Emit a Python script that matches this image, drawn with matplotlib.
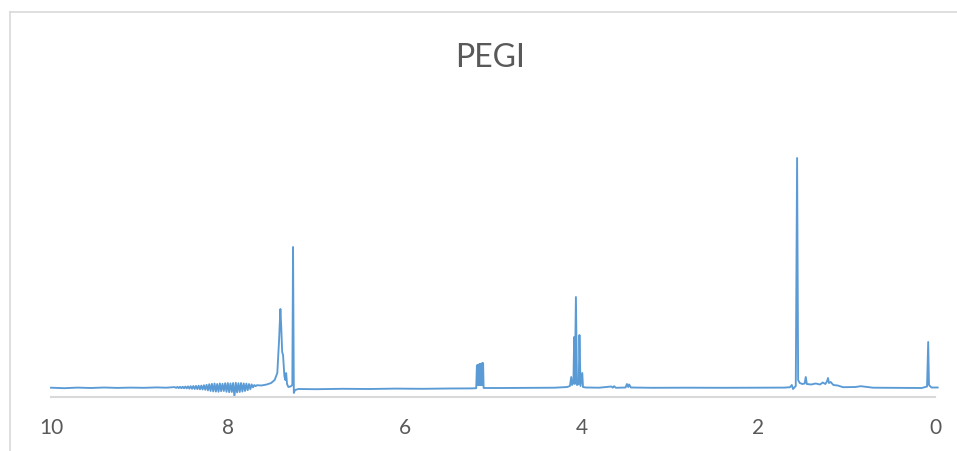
import matplotlib
matplotlib.use("Agg")
import matplotlib.pyplot as plt
from matplotlib.lines import Line2D

# 1H NMR trace (ppm, intensity above baseline)
ppm_left = [10.00, 9.85, 9.70, 9.55, 9.40, 9.25, 9.10, 8.95, 8.80, 8.70, 8.62]
int_left = [0.3, -0.2, 0.4, 0.0, 0.5, 0.1, 0.4, 0.2, 0.6, 0.3, 0.8]

# noisy band around 8 ppm
ppm_noise = [8.600, 8.585, 8.570, 8.555, 8.540, 8.525, 8.510, 8.495, 8.480, 8.465,
             8.450, 8.435, 8.420, 8.405, 8.390, 8.375, 8.360, 8.345, 8.330, 8.315,
             8.300, 8.285, 8.270, 8.255, 8.240, 8.225, 8.210, 8.195, 8.180, 8.165,
             8.150, 8.135, 8.120, 8.105, 8.090, 8.075, 8.060, 8.045, 8.030, 8.015,
             8.000, 7.985, 7.970, 7.955, 7.940, 7.925, 7.910, 7.895, 7.880, 7.865,
             7.850, 7.835, 7.820, 7.805, 7.790, 7.775, 7.760, 7.745, 7.730, 7.715,
             7.700]
int_noise = [0.9, 0.1, 1.1, -0.1, 1.2, -0.2, 1.3, -0.3, 1.5, -0.4,
             1.6, -0.6, 1.8, -0.8, 2.0, -1.0, 2.1, -1.1, 2.3, -1.3,
             2.4, -1.5, 2.8, -1.8, 3.2, -2.4, 3.8, -3.0, 4.2, -3.4,
             4.5, -3.6, 4.0, -3.8, 4.6, -3.2, 4.2, -3.0, 4.8, -3.8,
             5.0, -4.2, 4.6, -4.0, 5.0, -8.5, 5.2, -4.4, 4.8, -4.0,
             5.0, -3.6, 4.6, -3.0, 4.4, -2.2, 4.0, -1.2, 3.6, 0.6,
             3.0]

# aromatic region + CDCl3
ppm_arom = [7.685, 7.67, 7.62, 7.56, 7.51, 7.47, 7.44, 7.42, 7.405, 7.395,
            7.385, 7.375, 7.36, 7.35, 7.34, 7.33, 7.315, 7.29, 7.27, 7.262,
            7.253, 7.24, 7.20]
int_arom = [1.8, 2.8, 2.5, 3.5, 5.0, 8.0, 15.0, 48.0, 79.0, 60.0,
            36.0, 33.0, 12.0, 8.0, 15.0, 4.0, 1.0, 1.5, 3.0, 141.0,
            -5.0, -2.0, -1.0]

# flat stretch and multiplet near 5.15
ppm_mid = [7.00, 6.70, 6.40, 6.10, 5.80, 5.50, 5.25, 5.19,
           5.182, 5.178, 5.174, 5.170, 5.166, 5.162, 5.158, 5.154,
           5.150, 5.146, 5.142, 5.138, 5.134, 5.130, 5.126, 5.122,
           5.118, 5.114, 5.112, 5.106, 4.90, 4.60, 4.30, 4.16]
int_mid = [-1.2, -0.8, -1.0, -0.6, -0.8, -0.5, -0.4, -0.2,
           22.5, 3.0, 23.0, 3.0, 23.2, 3.0, 23.5, 3.0,
           23.8, 3.0, 24.0, 3.0, 24.2, 3.0, 24.5, 3.0,
           24.7, 3.0, 24.8, 0.0, 0.0, 0.2, 0.3, 1.0]

# peaks around 4 ppm
ppm_four = [4.13, 4.115, 4.105, 4.09, 4.082, 4.075, 4.062, 4.05, 4.03, 4.022,
            4.01, 3.99, 3.982, 3.95, 3.80, 3.66, 3.645, 3.63, 3.61, 3.50,
            3.485, 3.47, 3.46, 3.44, 3.20, 2.80, 2.40, 2.00, 1.70]
int_four = [2.0, 11.0, 3.0, 6.0, 51.0, 4.0, 91.0, 3.0, 4.0, 53.0,
            2.0, 15.0, 1.0, 0.5, 0.3, 1.5, 0.3, 1.8, 0.2, 0.5,
            4.0, 1.0, 3.5, 0.5, 0.2, 0.3, 0.2, 0.3, 0.4]

# aliphatic region + TMS
ppm_ali = [1.64, 1.62, 1.606, 1.575, 1.56, 1.548, 1.53, 1.50, 1.475, 1.462,
           1.45, 1.40, 1.35, 1.30, 1.27, 1.24, 1.22, 1.21, 1.20, 1.18,
           1.15, 1.10, 1.04, 0.90, 0.84, 0.70, 0.50, 0.30, 0.15, 0.09,
           0.077, 0.068, 0.04, -0.03]
int_ali = [0.8, 3.0, -1.0, 2.0, 230.0, 8.0, 5.0, 4.0, 4.5, 11.0,
           4.0, 3.5, 4.5, 3.5, 5.5, 4.0, 7.0, 10.0, 5.0, 6.0,
           3.0, 2.5, 0.8, 1.0, 1.8, 0.3, 0.2, 0.0, 0.0, 1.5,
           46.0, 3.0, 0.5, 0.5]

ppm = ppm_left + ppm_noise + ppm_arom + ppm_mid + ppm_four + ppm_ali
intensity = int_left + int_noise + int_arom + int_mid + int_four + int_ali

tick_vals = [10, 8, 6, 4, 2, 0]

grey_text = "#595959"
grey_line = "#D9D9D9"

fig = plt.figure(figsize=(9.57, 4.51), dpi=100)
ax = fig.add_axes([51 / 957, 54 / 451, 884 / 957, 249 / 451])

ax.plot(ppm, intensity, color="#5B9BD5", linewidth=1.35, clip_on=False)

ax.set_xlim(10, 0)
ax.set_ylim(-9, 240)
ax.set_xticks(tick_vals)
ax.set_xticklabels([str(t) for t in tick_vals])
ax.set_yticks([])
for side in ["top", "left", "right"]:
    ax.spines[side].set_visible(False)
ax.spines["bottom"].set_color(grey_line)
ax.spines["bottom"].set_linewidth(1.5)
ax.tick_params(axis="x", length=0, pad=15, labelsize=15, labelcolor=grey_text)
for lab in ax.get_xticklabels():
    lab.set_family("Lato")

fig.text(490 / 957, 1 - 58 / 451, "PEGI", ha="center", va="center",
         fontsize=23, color=grey_text, family="Lato")

# chart frame (only top and left edges are in view)
fig.add_artist(Line2D([10 / 957, 10 / 957], [0, 1 - 12 / 451],
                      transform=fig.transFigure, color=grey_line, linewidth=1.2))
fig.add_artist(Line2D([10 / 957, 1], [1 - 12 / 451, 1 - 12 / 451],
                      transform=fig.transFigure, color=grey_line, linewidth=1.2))

fig.savefig("out.png", dpi=100)
